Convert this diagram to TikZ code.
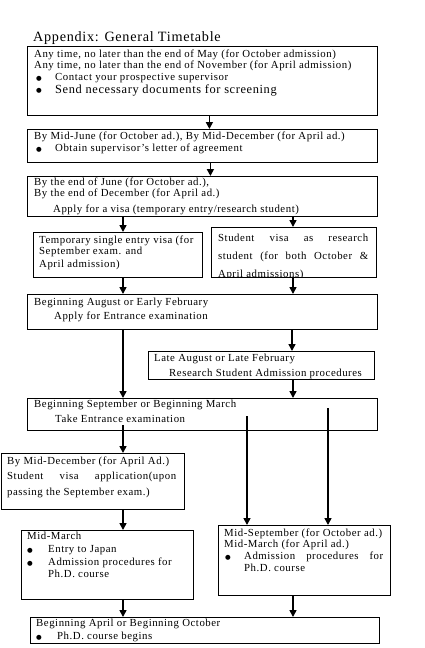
\documentclass[tikz,border=0pt]{standalone}
\usepackage{fontspec}
\setmainfont{Liberation Serif}[LetterSpace=5]
\newfontfamily\bulfont{DejaVu Sans}
\usetikzlibrary{arrows.meta}
\tikzset{
  box/.style={draw, line width=0.8pt, inner sep=0, anchor=north west},
  t/.style={anchor=base west, inner sep=0, font=\fontsize{10.8}{12}\selectfont},
  bul/.style={anchor=base west, inner sep=0, font=\bulfont\fontsize{6.5}{8}\selectfont},
  arr/.style={line width=1.6pt, -{Triangle[length=7pt,width=7pt]}},
}
\begin{document}
\begin{tikzpicture}[x=1pt,y=-1pt]
\useasboundingbox (0,0) rectangle (424,648);
\coordinate (cL) at (123,0);
\coordinate (cR) at (293,0);
% title
\node[t, font=\fontsize{14.2}{16}\selectfont] (title) at (33,41) {Appendix: General Timetable};
% boxes
\node[box, minimum width=350pt, minimum height=69pt] (b1) at (27,46) {};
\node[box, minimum width=350pt, minimum height=33pt] (b2) at (27,129) {};
\node[box, minimum width=350pt, minimum height=40pt] (b3) at (27,176) {};
\node[box, minimum width=169pt, minimum height=45pt] (b4) at (33,232) {};
\node[box, minimum width=165pt, minimum height=50pt] (b5) at (211,227) {};
\node[box, minimum width=350pt, minimum height=35pt] (b6) at (27,294) {};
\node[box, minimum width=226pt, minimum height=28pt] (b7) at (148,351) {};
\node[box, minimum width=350pt, minimum height=32pt] (b8) at (27,398) {};
\node[box, minimum width=183.5pt, minimum height=56pt] (b9) at (0.5,453) {};
\node[box, minimum width=172pt, minimum height=70pt] (b10) at (218,525) {};
\node[box, minimum width=172pt, minimum height=69pt] (b11) at (21,530) {};
\node[box, minimum width=349pt, minimum height=26pt] (b12) at (30,617) {};
% box 1
\node[t] (b1a) at (34,57) {Any time, no later than the end of May (for October admission)};
\node[t] (b1b) at (34,68) {Any time, no later than the end of November (for April admission)};
\node[bul] (b1u1) at (36,80) {●};
\node[t] (b1c) at (55,80) {Contact your prospective supervisor};
\node[bul] (b1u2) at (36,92) {●};
\node[t, font=\fontsize{12.4}{14}\selectfont] (b1d) at (55,93) {Send necessary documents for screening};
% box 2
\node[t] (b2a) at (34,139) {By Mid-June (for October ad.), By Mid-December (for April ad.)};
\node[bul] (b2u) at (36,151) {●};
\node[t] (b2b) at (55,151) {Obtain supervisor's letter of agreement};
% box 3
\node[t] (b3a) at (34,185) {By the end of June (for October ad.),};
\node[t] (b3b) at (34,196) {By the end of December (for April ad.)};
\node[t] (b3c) at (53,212) {Apply for a visa (temporary entry/research student)};
% box 4
\node[t] (b4a) at (39,243) {Temporary single entry visa (for};
\node[t] (b4b) at (39,254) {September exam. and};
\node[t] (b4c) at (39,267) {April admission)};
% box 5
\begin{scope}
\clip (b5.north west) rectangle (b5.south east);
\node[t] (b5a) at (218,241) {\makebox[150pt][s]{Student visa as research}};
\node[t] (b5b) at (218,259) {\makebox[150pt][s]{student (for both October \&}};
\node[t] (b5c) at (218,277) {April admissions)};
\end{scope}
% box 6
\node[t] (b6a) at (34,305) {Beginning August or Early February};
\node[t] (b6b) at (54,319) {Apply for Entrance examination};
% box 7
\node[t] (b7a) at (154,361) {Late August or Late February};
\node[t] (b7b) at (169,376) {Research Student Admission procedures};
% box 8
\node[t] (b8a) at (34,407) {Beginning September or Beginning March};
\node[t] (b8b) at (55,422) {Take Entrance examination};
% box 9
\node[t] (b9a) at (7,464) {By Mid-December (for April Ad.)};
\node[t] (b9b) at (7,479) {\makebox[169pt][s]{Student visa application(upon}};
\node[t] (b9c) at (7,495) {passing the September exam.)};
% box 11
\node[t] (b11a) at (27,539) {Mid-March};
\node[bul] (b11u1) at (27,552) {●};
\node[t] (b11b) at (48,552) {Entry to Japan};
\node[bul] (b11u2) at (27,565) {●};
\node[t] (b11c) at (48,565) {Admission procedures for};
\node[t] (b11d) at (48,577) {Ph.D. course};
% box 10
\node[t] (b10a) at (224,536) {Mid-September (for October ad.)};
\node[t] (b10b) at (224,547) {Mid-March (for April ad.)};
\node[bul] (b10u) at (225,559) {●};
\node[t] (b10c) at (244,559) {\makebox[139pt][s]{Admission procedures for}};
\node[t] (b10d) at (244,571) {Ph.D. course};
% box 12
\node[t] (b12a) at (36,626) {Beginning April or Beginning October};
\node[bul] (b12u) at (36,639) {●};
\node[t] (b12b) at (57,639) {Ph.D. course begins};
% arrows
\draw[arr] ([xshift=7pt]b1.south) -- ([xshift=7pt]b2.north);
\draw[arr] ([xshift=8pt]b2.south) -- ([xshift=8pt]b3.north);
\draw[arr] (b3.south -| cL) -- (b4.north -| cL);
\draw[arr] (b3.south -| cR) -- (b5.north -| cR);
\draw[arr] (b4.south -| cL) -- (b6.north -| cL);
\draw[arr] (b5.south -| cR) -- (b6.north -| cR);
\draw[arr] (b6.south -| cL) -- (b8.north -| cL);
\draw[arr] ([xshift=-1pt]b6.south -| cR) -- ([xshift=-1pt]b7.north -| cR);
\draw[arr] (b7.south -| cR) -- (b8.north -| cR);
\draw[arr] ([yshift=6pt]b8.south -| cL) -- (b9.north -| cL);
\draw[arr] (b9.south -| cL) -- (b11.north -| cL);
\draw[arr] (b11.south -| cL) -- (b12.north -| cL);
\draw[arr] (b10.south -| cR) -- (b12.north -| cR);
\coordinate (s1) at (247,416);
\coordinate (s2) at (328,408);
\draw[arr] (s1) -- (s1 |- b10.north);
\draw[arr] (s2) -- (s2 |- b10.north);
\end{tikzpicture}
\end{document}
